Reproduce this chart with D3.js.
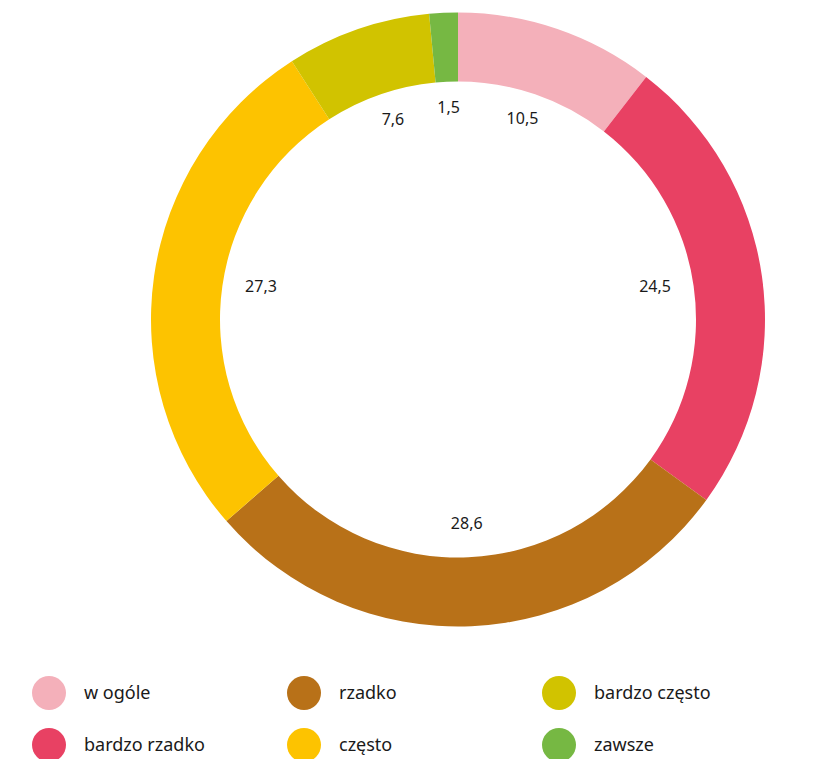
<!DOCTYPE html>
<html><head><meta charset="utf-8">
<script src="https://cdn.jsdelivr.net/npm/d3@7"></script>
<style>body{margin:0;background:#fff}svg{display:block}text{font-family:"Noto Sans",sans-serif;fill:#1a1a1a}</style>
</head><body>
<svg id="c" width="822" height="759"></svg>
<script>
const categories = ["w ogóle","bardzo rzadko","rzadko","często","bardzo często","zawsze"];
const values = [10.5,24.5,28.6,27.3,7.6,1.5];
const colors = ["#F4B0BA","#E84163","#B87118","#FDC300","#D1C300","#76B843"];
const labels = ["10,5","24,5","28,6","27,3","7,6","1,5"];

const svg = d3.select("#c");
const cx = 458, cy = 319.5, rOuter = 307, rInner = 238, rLabelX = 199, rLabelY = 208, labelShift = -4;
const data = categories.map((c,i)=>({cat:c, v:values[i], col:colors[i], lab:labels[i]}));
const pie = d3.pie().value(d=>d.v).sort(null);
const arcs = pie(data);
const arc = d3.arc().innerRadius(rInner).outerRadius(rOuter);
const g = svg.append("g").attr("transform",`translate(${cx},${cy})`);
g.selectAll("path").data(arcs).join("path").attr("d",arc).attr("fill",d=>d.data.col);
const lpos = d => { const a = (d.startAngle+d.endAngle)/2; return [rLabelX*Math.sin(a), -rLabelY*Math.cos(a)+labelShift]; };
g.selectAll("text.l").data(arcs).join("text").attr("class","l")
  .attr("transform",d=>`translate(${lpos(d)})`)
  .attr("text-anchor","middle").attr("dy","0.35em")
  .style("font-size","16px").text(d=>d.data.lab);

const col = d3.scaleOrdinal().domain([0,1,2]).range([49,304,559]);
const row = d3.scaleOrdinal().domain([0,1]).range([693,745]);
const lg = svg.append("g");
data.forEach((d,i)=>{
  const c = Math.floor(i/2), r = i%2;
  lg.append("circle").attr("cx",col(c)).attr("cy",row(r)).attr("r",17).attr("fill",d.col);
  lg.append("text").attr("x",col(c)+35).attr("y",row(r)).attr("dy","0.35em")
    .style("font-size","18px").text(d.cat);
});
</script>
</body></html>
